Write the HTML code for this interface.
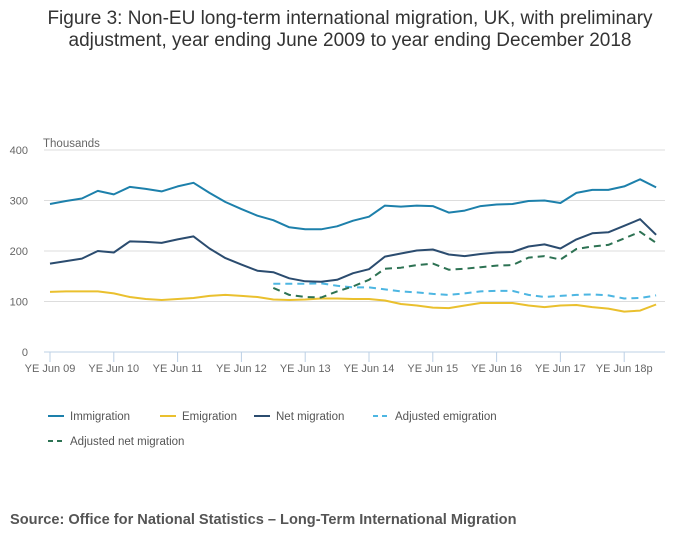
<!DOCTYPE html>
<html><head><meta charset="utf-8"><style>
body{margin:0;background:#fff;font-family:"Liberation Sans",sans-serif;}
#wrap{position:relative;width:700px;height:549px;overflow:hidden;}
.t{position:absolute;left:0;width:700px;text-align:center;font-size:19px;color:#333;line-height:22px;}
.src{position:absolute;left:10px;top:512px;font-size:14.6px;font-weight:bold;color:#555;}
</style></head><body>
<div id="wrap">
<div class="t" style="top:8px">Figure 3: Non-EU long-term international migration, UK, with preliminary<br>adjustment, year ending June 2009 to year ending December 2018</div>
<svg id="c" width="700" height="549" style="position:absolute;left:0;top:0"></svg>
<div class="src">Source: Office for National Statistics – Long-Term International Migration</div>
</div>
<script>
const ticks=["YE Jun 09","YE Jun 10","YE Jun 11","YE Jun 12","YE Jun 13","YE Jun 14","YE Jun 15","YE Jun 16","YE Jun 17","YE Jun 18p"];
const yTicks=[0,100,200,300,400];
const immigration=[293,299,304,319,312,327,323,318,328,335,315,297,283,270,261,247,243,243,249,260,268,290,288,290,289,276,280,289,292,293,299,300,295,315,321,321,328,342,326];
const emigration=[119,120,120,120,116,109,105,103,105,107,111,113,111,109,104,103,104,106,106,105,105,102,95,92,88,87,92,97,97,97,92,89,92,93,89,86,80,82,94];
const netMigration=[175,180,185,200,197,219,218,216,223,229,205,186,173,161,158,146,140,139,143,156,164,189,195,201,203,193,190,194,197,198,209,213,205,223,235,237,250,263,232];
const adjEmigration=[null,null,null,null,null,null,null,null,null,null,null,null,null,null,135,135,135,136,131,128,128,124,120,118,115,113,116,120,121,121,113,109,111,113,114,112,106,107,112];
const adjNet=[null,null,null,null,null,null,null,null,null,null,null,null,null,null,127,113,109,108,120,130,143,165,167,172,175,163,165,168,171,172,187,190,183,204,209,212,225,238,216];
const svg=document.getElementById('c');const NS='http://www.w3.org/2000/svg';
const X=i=>50+i*15.95, Y=v=>352-v*0.505;
function mk(tag,attrs,parent){const e=document.createElementNS(NS,tag);for(const k in attrs)e.setAttribute(k,attrs[k]);(parent||svg).appendChild(e);return e;}
yTicks.forEach(v=>{
 const l=mk('line',{x1:44,x2:665,y1:Y(v),y2:Y(v),stroke:v===0?'#bcd0e5':'#ddd','stroke-width':1});
 
 
 const t=mk('text',{x:28,y:Y(v)+4,'text-anchor':'end','font-size':11,fill:'#666','font-family':'Liberation Sans'});t.textContent=v;
 
 
});
const yt=mk('text',{x:43,y:147,'font-size':11.5,fill:'#666','font-family':'Liberation Sans'});yt.textContent='Thousands';


ticks.forEach((s,k)=>{const x=X(k*4);
 const l=mk('line',{x1:x,x2:x,y1:352,y2:362,stroke:'#bcd0e5'});
 
 
 const t=mk('text',{x:x,y:372,'text-anchor':'middle','font-size':11,fill:'#666','font-family':'Liberation Sans'});t.textContent=s;
 
 
});
function series(arr,color,dash,name){let d='';arr.forEach((v,i)=>{if(v==null)return;d+=(d?'L':'M')+X(i).toFixed(1)+','+Y(v).toFixed(1);});
 const p=mk('path',{d:d,fill:'none',stroke:color,'stroke-width':2,'stroke-dasharray':dash||'none','stroke-linejoin':'round'});
 
 }
series(emigration,'#eac02e','','emigration-line');
series(adjEmigration,'#4db6e2','7,5','adjusted-emigration-line');
series(adjNet,'#2d7253','7,5','adjusted-net-migration-line');
series(netMigration,'#2b4c6f','','net-migration-line');
series(immigration,'#1d80ab','','immigration-line');
const leg=[["Immigration",'#1d80ab','',48,416],["Emigration",'#eac02e','',160,416],["Net migration",'#2b4c6f','',254,416],["Adjusted emigration",'#4db6e2','5,4',373,416],["Adjusted net migration",'#2d7253','5,4',48,441]];
leg.forEach(([s,c,d,x,y])=>{const g=mk('g',{});
 
 
 mk('line',{x1:x,x2:x+16,y1:y,y2:y,stroke:c,'stroke-width':2,'stroke-dasharray':d||'none'},g);
 const t=mk('text',{x:x+22,y:y+4,'font-size':11.5,fill:'#555','font-family':'Liberation Sans'},g);t.textContent=s;});
</script>
</body></html>
